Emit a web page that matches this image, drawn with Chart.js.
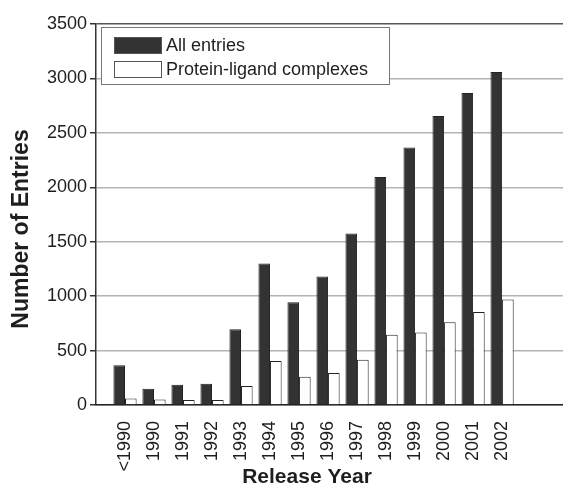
<!DOCTYPE html>
<html>
<head>
<meta charset="utf-8">
<script src="https://cdn.jsdelivr.net/npm/chart.js@4/dist/chart.umd.min.js"></script>
<style>
  body { margin: 0; background: #fff; overflow: hidden; }
  #chart { display: block; }
</style>
</head>
<body>
<canvas id="chart" width="563" height="487"></canvas>
<script>
// release years and entry counts
const categories = ['<1990', '1990', '1991', '1992', '1993', '1994', '1995', '1996', '1997', '1998', '1999', '2000', '2001', '2002'];
const allEntries = [365, 150, 185, 195, 695, 1300, 945, 1180, 1575, 2095, 2365, 2655, 2865, 3060];
const complexes = [60, 50, 45, 45, 175, 405, 260, 295, 415, 645, 665, 760, 855, 970];
const seriesNames = ['All entries', 'Protein-ligand complexes'];
const yTicks = [0, 500, 1000, 1500, 2000, 2500, 3000, 3500];

const FONT = "'Liberation Sans', Arial, sans-serif";
const textColor = '#1e1e1e';

// legend box and axis titles drawn inside the canvas
const extras = {
    id: 'extras',
    afterDraw(chart) {
        const ctx = chart.ctx;
        const area = chart.chartArea;
        const x0 = area.left + 5, y0 = area.top + 3;
        ctx.save();
        ctx.fillStyle = '#fff';
        ctx.strokeStyle = '#777';
        ctx.lineWidth = 1;
        ctx.fillRect(x0, y0, 288, 57);
        ctx.strokeRect(x0 + 0.5, y0 + 0.5, 288, 57);

        chart.data.datasets.forEach((ds, i) => {
            const sy = y0 + 10 + i * 24;
            ctx.fillStyle = ds.backgroundColor;
            ctx.fillRect(x0 + 13, sy, 48, 17);
            ctx.strokeStyle = '#555';
            ctx.strokeRect(x0 + 13.5, sy + 0.5, 47, 16);
            ctx.fillStyle = textColor;
            ctx.font = '18px ' + FONT;
            ctx.textBaseline = 'middle';
            ctx.textAlign = 'left';
            ctx.fillText(ds.label, x0 + 65, sy + 9);
        });

        ctx.fillStyle = textColor;
        ctx.textAlign = 'center';
        ctx.textBaseline = 'middle';
        ctx.font = 'bold 21px ' + FONT;
        ctx.fillText('Release Year', 307, 477);

        ctx.translate(22, 229);
        ctx.rotate(-Math.PI / 2);
        ctx.font = 'bold 23px ' + FONT;
        ctx.fillText('Number of Entries', 0, 0);
        ctx.restore();
    }
};

new Chart(document.getElementById('chart'), {
    type: 'bar',
    data: {
        datasets: [{
            label: seriesNames[0],
            data: allEntries.map((v, i) => ({ x: i, y: v })),
            backgroundColor: '#333333',
            borderColor: '#222222',
            borderWidth: 1
        }, {
            label: seriesNames[1],
            data: complexes.map((v, i) => ({ x: i, y: v })),
            backgroundColor: '#ffffff',
            borderColor: '#222222',
            borderWidth: 1
        }]
    },
    options: {
        responsive: false,
        animation: false,
        layout: { padding: { top: 24, left: 0, right: 0, bottom: 0 } },
        datasets: { bar: { categoryPercentage: 0.8, barPercentage: 1.0 } },
        plugins: {
            legend: { display: false },
            tooltip: { enabled: false }
        },
        scales: {
            x: {
                type: 'linear',
                min: -1,
                max: 15.1,
                offset: false,
                grid: { display: false },
                border: { display: true, color: '#222', width: 1.5 },
                ticks: {
                    stepSize: 1,
                    autoSkip: false,
                    minRotation: 90,
                    maxRotation: 90,
                    padding: 8,
                    color: textColor,
                    font: { family: FONT, size: 18 },
                    callback: v => (Number.isInteger(v) && categories[v]) ? categories[v] : ''
                },
                afterFit(scale) {
                    scale.height = 82;
                    scale.paddingLeft = 0;
                    scale.paddingRight = 0;
                }
            },
            y: {
                min: 0,
                max: 3500,
                afterBuildTicks(scale) {
                    scale.ticks = yTicks.map(v => ({ value: v }));
                },
                grid: {
                    color: ctx => ctx.tick && ctx.tick.value === 3500 ? '#555' : '#b4b4b4',
                    lineWidth: 1.5,
                    tickColor: '#333',
                    tickLength: 6
                },
                border: { display: true, color: '#333', width: 1.5 },
                ticks: {
                    padding: 3,
                    color: textColor,
                    font: { family: FONT, size: 18 },
                    callback: v => String(v)
                },
                afterFit(scale) {
                    scale.width = 96;
                    scale.paddingTop = 0;
                    scale.paddingBottom = 0;
                }
            }
        }
    },
    plugins: [extras]
});
</script>
</body>
</html>
